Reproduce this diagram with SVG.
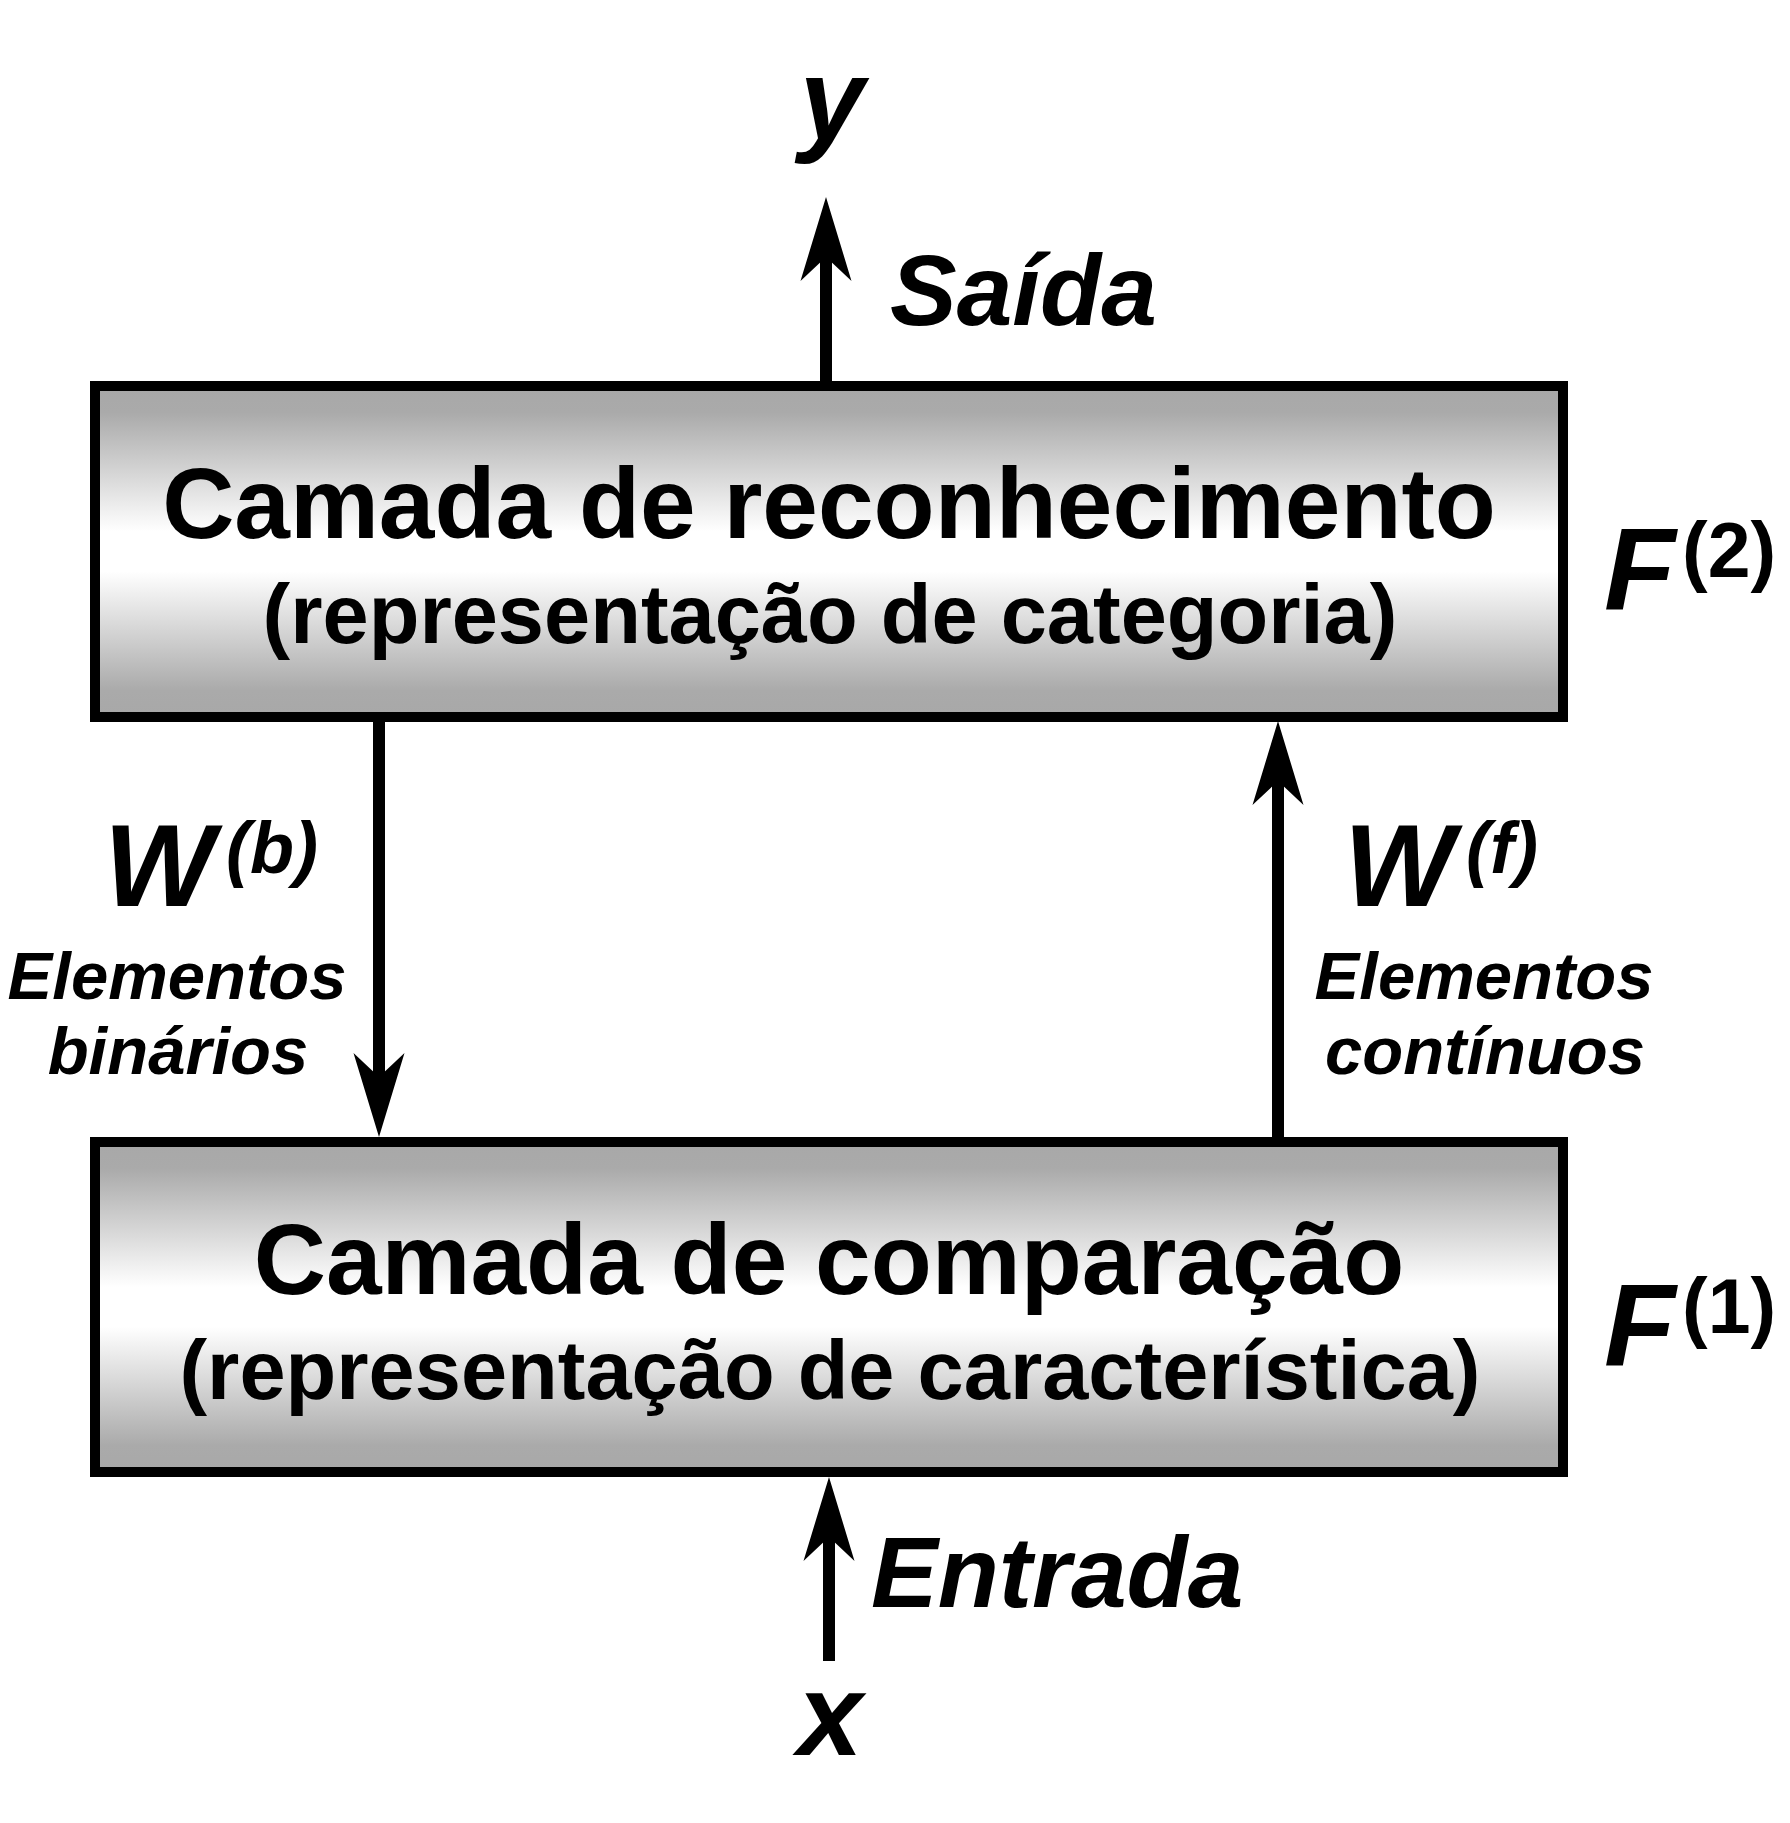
<svg xmlns="http://www.w3.org/2000/svg" width="1790" height="1823" viewBox="0 0 1790 1823">
<defs>
<linearGradient id="boxfill" x1="0" y1="0" x2="0" y2="1">
<stop offset="0" stop-color="#a8a8a8"/>
<stop offset="0.08" stop-color="#aaaaaa"/>
<stop offset="0.44" stop-color="#ffffff"/>
<stop offset="0.56" stop-color="#ffffff"/>
<stop offset="0.92" stop-color="#aaaaaa"/>
<stop offset="1" stop-color="#a8a8a8"/>
</linearGradient>
<marker id="ah" markerUnits="userSpaceOnUse" markerWidth="100" markerHeight="60" viewBox="-30 -30 100 60" refX="0" refY="0" orient="auto" overflow="visible">
<path d="M60,0 L-24,-25.5 L0,0 L-24,25.5 Z" fill="#000"/>
</marker>
</defs>
<style>
text { font-family: "Liberation Sans", Arial, sans-serif; font-weight: bold; fill: #000; }
.box { fill: url(#boxfill); stroke: #000; stroke-width: 10; }
.main { font-size: 100px; text-anchor: middle; }
.sub { font-size: 83px; text-anchor: middle; }
.it { font-style: italic; }
.var { font-size: 117px; font-style: italic; }
.lbl { font-size: 100px; font-style: italic; }
.sm { font-size: 67px; font-style: italic; text-anchor: middle; }
.sup { font-size: 72px; }
.supn { font-size: 77px; }
.conn { stroke: #000; stroke-width: 12; fill: none; marker-end: url(#ah); }
</style>
<rect width="1790" height="1823" fill="#fff"/>

<g id="connectors">
<line class="conn" x1="826" y1="381" x2="826" y2="257"/>
<line class="conn" x1="379" y1="722" x2="379" y2="1077"/>
<line class="conn" x1="1278" y1="1137" x2="1278" y2="781"/>
<line class="conn" x1="829" y1="1661" x2="829" y2="1537"/>
</g>

<g id="recognition">
<rect class="box" x="95" y="386" width="1468" height="331"/>
<text class="main" x="829" y="538">Camada de reconhecimento</text>
<text class="sub" x="830" y="643">(representação de categoria)</text>
</g>

<g id="comparison">
<rect class="box" x="95" y="1142" width="1468" height="330"/>
<text class="main" x="829" y="1294">Camada de comparação</text>
<text class="sub" x="830" y="1399">(representação de característica)</text>
</g>

<g id="output-y">
<text class="var" x="832" y="140" text-anchor="middle">y</text>
<text class="lbl" x="890" y="325">Saída</text>
</g>

<g id="input-x">
<text class="var" x="830" y="1755" text-anchor="middle">x</text>
<text class="lbl" x="871" y="1607">Entrada</text>
</g>

<g id="F2">
<text class="var" x="1604" y="610">F</text>
<text class="supn" x="1682" y="577">(2)</text>
</g>

<g id="F1">
<text class="var" x="1604" y="1366">F</text>
<text class="supn" x="1682" y="1333">(1)</text>
</g>

<g id="Wb">
<text class="var" x="104" y="906">W</text>
<text class="sup it" x="226" y="873">(b)</text>
<text class="sm" x="177" y="999">Elementos</text>
<text class="sm" x="178" y="1074">binários</text>
</g>

<g id="Wf">
<text class="var" x="1344" y="906">W</text>
<text class="sup it" x="1466" y="873">(f)</text>
<text class="sm" x="1484" y="999">Elementos</text>
<text class="sm" x="1485" y="1074">contínuos</text>
</g>
</svg>
